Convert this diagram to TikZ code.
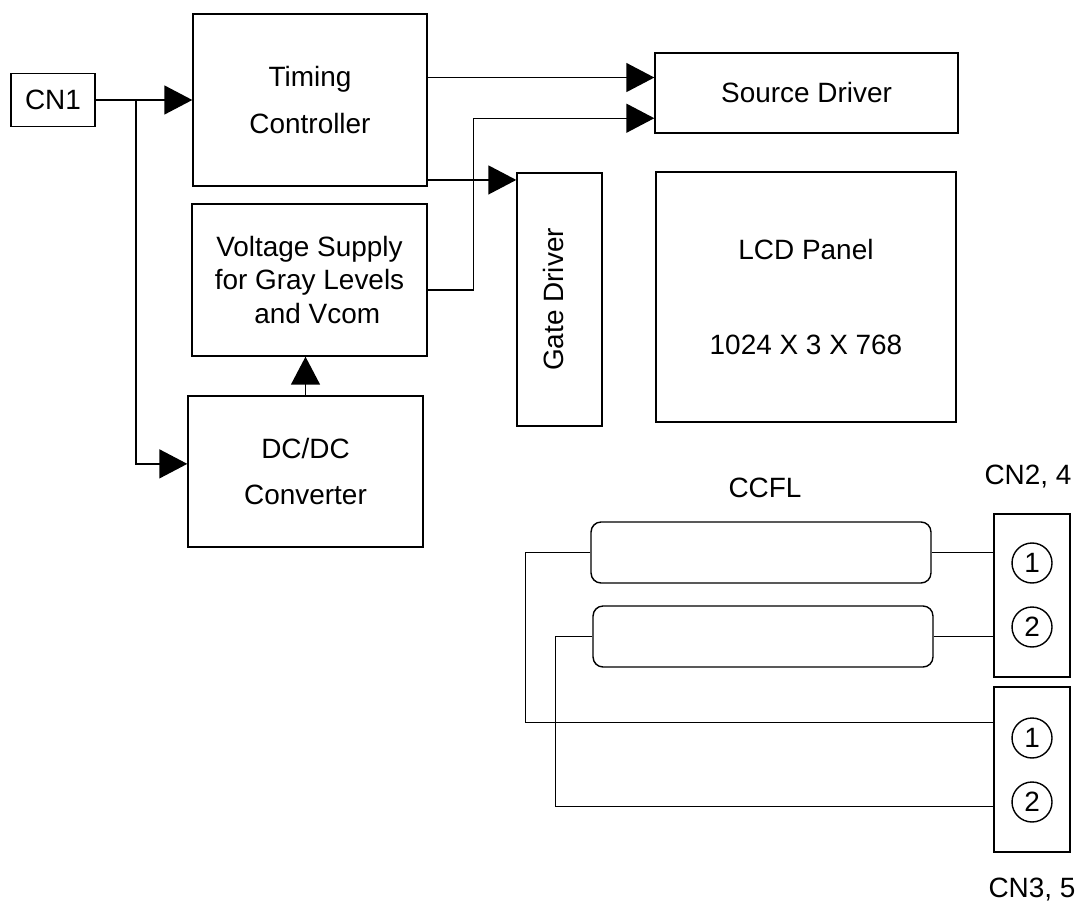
\documentclass[tikz,border=0pt]{standalone}
\usepackage{fontspec}
\setmainfont{Liberation Sans}
\usetikzlibrary{arrows.meta,calc}
\begin{document}
\begin{tikzpicture}[x=0.02cm,y=-0.02cm,line width=0.8pt,
  font=\fontsize{15.9}{19}\selectfont,
  block/.style={draw=black,rectangle,align=center,inner sep=0pt},
  tube/.style={draw=black,rectangle,rounded corners=0.2cm,minimum width=6.8cm,minimum height=1.22cm},
  pin/.style={draw=black,circle,minimum size=0.8cm,inner sep=0pt},
  arr/.style={-{Triangle[length=0.56cm,width=0.58cm]}}]
  \useasboundingbox (0,0) rectangle (1077,911);

  \node[block,minimum width=1.68cm,minimum height=1.06cm] (CN1) at (53,100) {CN1};
  \node[block,minimum width=4.68cm,minimum height=3.44cm] (TC) at (310,100) {Timing\\[8pt]Controller};
  \node[block,minimum width=4.7cm,minimum height=3.04cm] (VS) at (309.5,280) {Voltage Supply\\for Gray Levels\\\ \ and Vcom};
  \node[block,minimum width=4.7cm,minimum height=3.02cm] (DCDC) at (305.5,471.5) {DC/DC\\[7pt]Converter};
  \node[block,minimum width=1.7cm,minimum height=5.06cm] (GD) at (559.5,299.5) {\rotatebox{90}{Gate Driver}\hspace{0.25cm}};
  \node[block,minimum width=6.06cm,minimum height=1.6cm] (SD) at (806.5,93) {Source Driver};
  \node[block,minimum width=6cm,minimum height=5cm] (LCD) at (806,297) {LCD Panel\\[35pt]1024 X 3 X 768};

  \coordinate (SPLIT) at (136,100);
  \coordinate (DCin) at ($(DCDC.north west)!0.45!(DCDC.south west)$);
  \coordinate (SDa) at ($(SD.north west)!0.31!(SD.south west)$);
  \coordinate (SDb) at ($(SD.north west)!0.81!(SD.south west)$);
  \coordinate (VSo) at ($(VS.north east)!0.566!(VS.south east)$);
  \coordinate (GDa) at ($(GD.north west)!0.03!(GD.south west)$);

  \draw[arr] (CN1) -- (TC);
  \draw[arr] (SPLIT) |- (DCin);
  \draw[arr] (TC.east |- SDa) -- (SDa);
  \draw[arr] (VSo) -- ++(46,0) |- (SDb);
  \draw[arr] (TC.east |- GDa) -- (GDa);
  \draw[arr] (DCDC.north) -- (DCDC.north |- VS.south);

  \node (CCFL) at (765,488) {CCFL};
  \node[tube] (T1) at (761,552.5) {};
  \node[tube] (T2) at (763,636.5) {};

  \node (CN24L) at (1028,477) {CN2, 4};
  \node[block,minimum width=1.52cm,minimum height=3.26cm] (CN24) at (1032,595.5) {};
  \node[pin] (P1a) at (1032,563) {1};
  \node[pin] (P2a) at (1032,627) {2};

  \node[block,minimum width=1.52cm,minimum height=3.3cm] (CN35) at (1032,769.5) {};
  \node[pin] (P1b) at (1032,738) {1};
  \node[pin] (P2b) at (1032,802) {2};
  \node (CN35L) at (1032,890) {CN3, 5};

  \coordinate (C35a) at ($(CN35.north west)!0.218!(CN35.south west)$);
  \coordinate (C35b) at ($(CN35.north west)!0.721!(CN35.south west)$);

  \draw (T1.east) -- (T1.east -| CN24.west);
  \draw (T2.east) -- (T2.east -| CN24.west);
  \draw (T1.west) -- ++(-65,0) |- (C35a);
  \draw (T2.west) -- ++(-37,0) |- (C35b);
\end{tikzpicture}
\end{document}
